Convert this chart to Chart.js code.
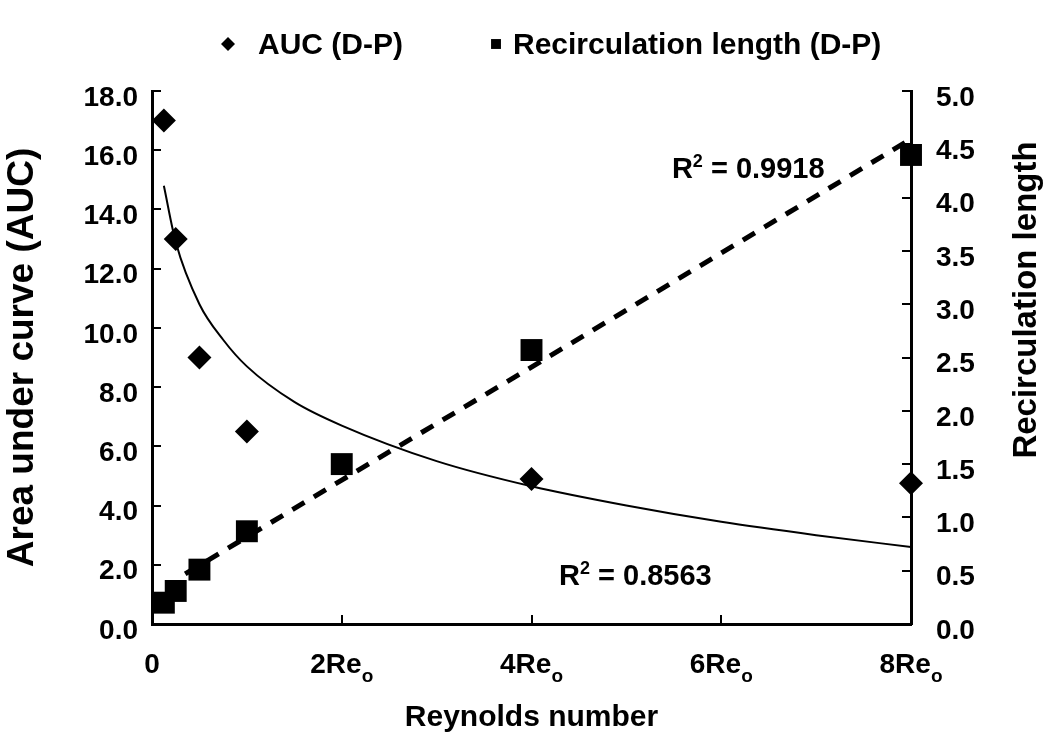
<!DOCTYPE html>
<html>
<head>
<meta charset="utf-8">
<script src="https://cdn.jsdelivr.net/npm/chart.js@4.4.0/dist/chart.umd.min.js"></script>
<style>
  body { margin: 0; background: #fff; }
  #wrap { width: 1050px; height: 748px; }
</style>
</head>
<body>
<div id="wrap"><canvas id="reChart" width="1050" height="748"></canvas></div>
<script>
// measured points (x in units of Re_o)
const aucX = [0.125, 0.25, 0.5, 1, 4, 8];
const aucValues = [17.0, 13.0, 9.0, 6.5, 4.9, 4.75];
const recircX = [0.125, 0.25, 0.5, 1, 2, 4, 8];
const recircValues = [0.2, 0.31, 0.51, 0.87, 1.5, 2.57, 4.4];

// trend lines
const aucTrendX = [0.125, 0.25, 0.5, 0.75, 1, 1.5, 2, 3, 4, 5, 6, 7, 8];
const aucTrendY = [14.8, 12.9, 10.8, 9.6, 8.7, 7.5, 6.7, 5.5, 4.65, 4.0, 3.45, 3.0, 2.6];
const recircTrendX = [0.35, 2, 4, 6, 8];
const recircTrendY = [0.47, 1.35, 2.41, 3.48, 4.55];

// axis ticks
const xTicks = [0, 2, 4, 6, 8];
const xTickLabels = ['0', '2Re', '4Re', '6Re', '8Re'];
const r2Values = ['0.9918', '0.8563'];

const FONT = "'Liberation Sans', Arial, sans-serif";
Chart.defaults.font.family = FONT;
Chart.defaults.color = '#000';

const pts = (xs, ys) => xs.map((x, i) => ({ x: x, y: ys[i] }));

// draws legend, x tick labels with subscript, right title and R² notes
const extras = {
  id: 'extras',
  afterDraw(chart) {
    const ctx = chart.ctx;
    const xs = chart.scales.x, y2 = chart.scales.y2;
    ctx.save();
    ctx.fillStyle = '#000';

    // legend
    const legend = [{ ds: 0, mx: 228, tx: 258 }, { ds: 1, mx: 496, tx: 513 }];
    ctx.font = 'bold 30px ' + FONT;
    ctx.textBaseline = 'alphabetic';
    ctx.textAlign = 'left';
    legend.forEach(l => {
      const ds = chart.data.datasets[l.ds];
      Chart.helpers.drawPoint(ctx, { pointStyle: ds.pointStyle, radius: 7, borderWidth: 0, rotation: 0 }, l.mx, 44);
      ctx.fillText(ds.label, l.tx, 54);
    });

    // x tick labels like 2Re with subscript o
    xTicks.forEach((v, i) => {
      const px = xs.getPixelForValue(v);
      const main = xTickLabels[i];
      ctx.font = 'bold 28px ' + FONT;
      const w1 = ctx.measureText(main).width;
      const sub = v === 0 ? '' : 'o';
      ctx.font = 'bold 19px ' + FONT;
      const w2 = sub ? ctx.measureText(sub).width : 0;
      const start = px - (w1 + w2) / 2;
      ctx.font = 'bold 28px ' + FONT;
      ctx.fillText(main, start, 673);
      if (sub) {
        ctx.font = 'bold 19px ' + FONT;
        ctx.fillText(sub, start + w1, 682);
      }
    });

    // right axis title (reads bottom to top)
    ctx.save();
    ctx.translate(1027, 300);
    ctx.rotate(-Math.PI / 2);
    ctx.font = 'bold 33px ' + FONT;
    ctx.textAlign = 'center';
    ctx.textBaseline = 'middle';
    ctx.fillText('Recirculation length', 0, 0);
    ctx.restore();

    // R² annotations
    const notes = [
      { x: 5.48, y: 4.18, v: r2Values[0] },
      { x: 4.29, y: 0.37, v: r2Values[1] }
    ];
    notes.forEach(n => {
      let px = xs.getPixelForValue(n.x);
      const py = y2.getPixelForValue(n.y);
      ctx.font = 'bold 29px ' + FONT;
      ctx.fillText('R', px, py);
      px += ctx.measureText('R').width;
      ctx.font = 'bold 18px ' + FONT;
      ctx.fillText('2', px, py - 11);
      px += ctx.measureText('2').width;
      ctx.font = 'bold 29px ' + FONT;
      ctx.fillText(' = ' + n.v, px, py);
    });
    ctx.restore();
  }
};

const axisGrid = { drawOnChartArea: false, drawTicks: true, tickLength: -9, color: '#000', lineWidth: 2 };
const axisBorder = { color: '#000', width: 3 };

new Chart(document.getElementById('reChart'), {
  type: 'scatter',
  data: {
    datasets: [
      {
        label: 'AUC (D-P)',
        data: pts(aucX, aucValues),
        yAxisID: 'y',
        pointStyle: 'rectRot',
        pointRadius: 12,
        backgroundColor: '#000',
        borderWidth: 0,
        clip: false
      },
      {
        label: 'Recirculation length (D-P)',
        data: pts(recircX, recircValues),
        yAxisID: 'y2',
        pointStyle: 'rect',
        pointRadius: 15.5,
        backgroundColor: '#000',
        borderWidth: 0,
        clip: false
      },
      {
        label: 'AUC trend',
        data: pts(aucTrendX, aucTrendY),
        yAxisID: 'y',
        showLine: true,
        pointRadius: 0,
        borderColor: '#000',
        borderWidth: 2,
        cubicInterpolationMode: 'monotone'
      },
      {
        label: 'Recirculation trend',
        data: pts(recircTrendX, recircTrendY),
        yAxisID: 'y2',
        showLine: true,
        pointRadius: 0,
        borderColor: '#000',
        borderWidth: 5,
        borderDash: [14, 11]
      }
    ]
  },
  options: {
    responsive: false,
    animation: false,
    layout: { padding: { top: 91, left: 0, right: 0, bottom: 0 } },
    plugins: {
      legend: { display: false },
      tooltip: { enabled: false }
    },
    scales: {
      x: {
        type: 'linear',
        min: 0,
        max: 8,
        grid: axisGrid,
        border: axisBorder,
        ticks: {
          stepSize: 2,
          color: 'rgba(0,0,0,0)',
          font: { size: 28, weight: 'bold' },
          callback: (v) => xTickLabels[xTicks.indexOf(v)] || ''
        },
        title: {
          display: true,
          text: 'Reynolds number',
          font: { size: 30, weight: 'bold' },
          padding: { top: 0, bottom: 12 }
        },
        afterFit: (s) => { s.height = 124; }
      },
      y: {
        position: 'left',
        min: 0,
        max: 18,
        grid: axisGrid,
        border: axisBorder,
        ticks: {
          stepSize: 2,
          padding: 23,
          labelOffset: 7,
          font: { size: 28, weight: 'bold' },
          callback: (v) => v.toFixed(1)
        },
        title: {
          display: true,
          text: 'Area under curve (AUC)',
          font: { size: 37, weight: 'bold' },
          padding: { top: 1, bottom: 0 }
        },
        afterFit: (s) => { s.width = 152; }
      },
      y2: {
        position: 'right',
        min: 0,
        max: 5,
        grid: axisGrid,
        border: axisBorder,
        ticks: {
          stepSize: 0.5,
          padding: 34,
          labelOffset: 7,
          font: { size: 28, weight: 'bold' },
          callback: (v) => v.toFixed(1)
        },
        afterFit: (s) => { s.width = 139; }
      }
    }
  },
  plugins: [extras]
});
</script>
</body>
</html>
